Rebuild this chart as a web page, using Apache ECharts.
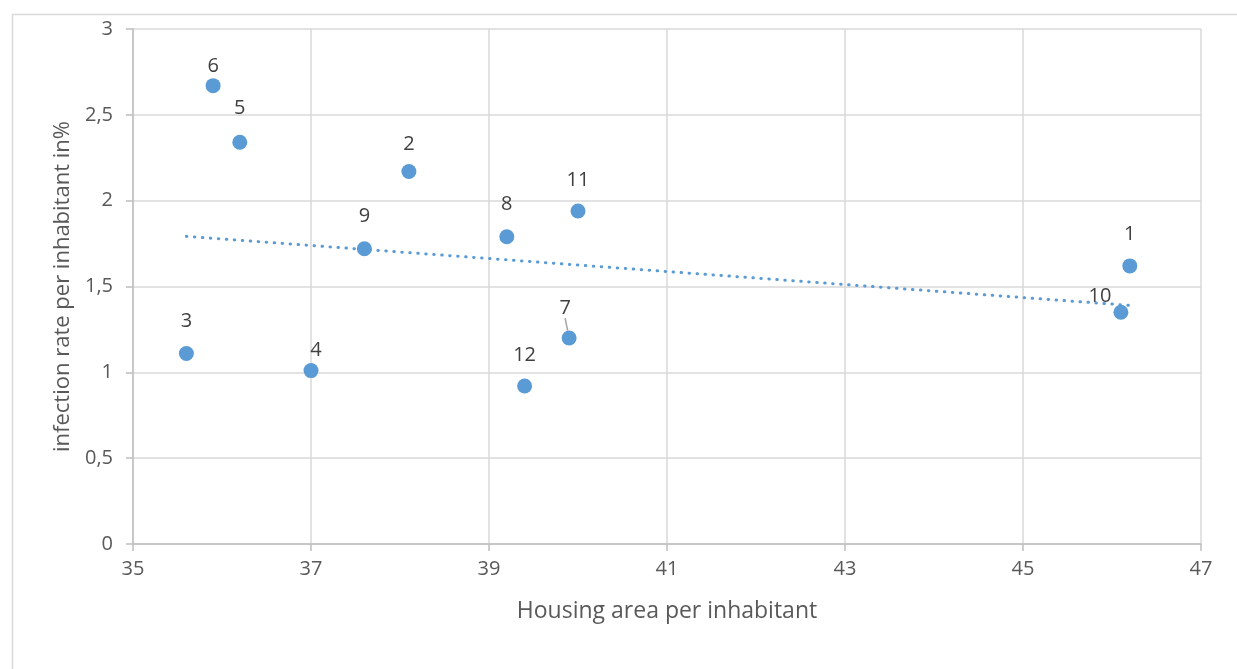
<!DOCTYPE html>
<html>
<head>
<meta charset="utf-8">
<script src="https://cdn.jsdelivr.net/npm/echarts@6/dist/echarts.min.js"></script>
<style>html,body{margin:0;padding:0;background:#fff;}#c{width:1237px;height:669px;}</style>
</head>
<body>
<div id="c"></div>
<script>
// Data
const pointLabels = ['1','2','3','4','5','6','7','8','9','10','11','12'];
const housingArea = [46.2, 38.1, 35.6, 37.0, 36.2, 35.9, 39.9, 39.2, 37.6, 46.1, 40.0, 39.4];
const infectionRate = [1.62, 2.17, 1.11, 1.01, 2.34, 2.67, 1.20, 1.79, 1.72, 1.35, 1.94, 0.92];
const trendX = [35.6, 46.2];
const trendY = [1.792, 1.390];
const xTicks = [35, 37, 39, 41, 43, 45, 47];
const yTicks = [0, 0.5, 1, 1.5, 2, 2.5, 3];

// label placement (style, relative to each marker)
const labelShift = [[0,-32],[0,-27],[0,-32],[5,-20],[0,-34],[0,-19],[-4,-30],[0,-32],[0,-32],[-21,-16],[0,-31],[0,-31]];

const fmt = v => String(v).replace('.', ',');
const font = '"Open Sans", sans-serif';

const chart = echarts.init(document.getElementById('c'), null, {renderer: 'canvas'});
chart.setOption({
  animation: false,
  backgroundColor: '#fff',
  graphic: [{
    type: 'rect', left: 10, top: 12,
    shape: {width: 1300, height: 700},
    style: {fill: 'none', stroke: '#d9d9d9', lineWidth: 1.5},
    silent: true
  }],
  grid: {left: 133, top: 29, right: 36, bottom: 125, containLabel: false},
  xAxis: {
    type: 'value', min: xTicks[0], max: xTicks[xTicks.length - 1], interval: 2,
    name: 'Housing area per inhabitant', nameLocation: 'middle', nameGap: 56,
    nameTextStyle: {color: '#595959', fontSize: 23, fontFamily: font},
    axisLine: {show: true, lineStyle: {color: '#bfbfbf', width: 1.5}},
    axisTick: {show: true, length: 7, lineStyle: {color: '#bfbfbf', width: 1.5}},
    axisLabel: {color: '#595959', fontSize: 20, fontFamily: font, margin: 15, formatter: fmt},
    splitLine: {show: true, lineStyle: {color: '#d9d9d9', width: 1.5}}
  },
  yAxis: {
    type: 'value', min: yTicks[0], max: yTicks[yTicks.length - 1], interval: 0.5,
    name: 'infection rate per inhabitant in%', nameLocation: 'middle', nameGap: 59,
    nameTextStyle: {color: '#595959', fontSize: 22, fontFamily: font},
    axisLine: {show: true, lineStyle: {color: '#bfbfbf', width: 1.5}},
    axisTick: {show: true, length: 7, lineStyle: {color: '#bfbfbf', width: 1.5}},
    axisLabel: {color: '#595959', fontSize: 20, fontFamily: font, margin: 20, formatter: fmt},
    splitLine: {show: true, lineStyle: {color: '#d9d9d9', width: 1.5}}
  },
  series: [
    {
      type: 'line',
      data: trendX.map((x, i) => [x, trendY[i]]),
      showSymbol: false,
      symbol: 'none',
      lineStyle: {color: '#5b9bd5', width: 3, type: [0.5, 7.5], cap: 'round'},
      z: 3
    },
    {
      type: 'scatter',
      symbolSize: 15,
      itemStyle: {color: '#5b9bd5', opacity: 1},
      data: housingArea.map((x, i) => ({
        value: [x, infectionRate[i]],
        name: pointLabels[i],
        labelLine: {show: i === 6, lineStyle: {color: '#a6a6a6', width: 1.5}}
      })),
      label: {
        show: true, position: 'inside',
        formatter: p => p.name,
        color: '#404040', fontSize: 20, fontFamily: font
      },
      labelLayout: p => ({dx: labelShift[p.dataIndex][0], dy: labelShift[p.dataIndex][1]}),
      z: 4
    }
  ]
});
</script>
</body>
</html>
